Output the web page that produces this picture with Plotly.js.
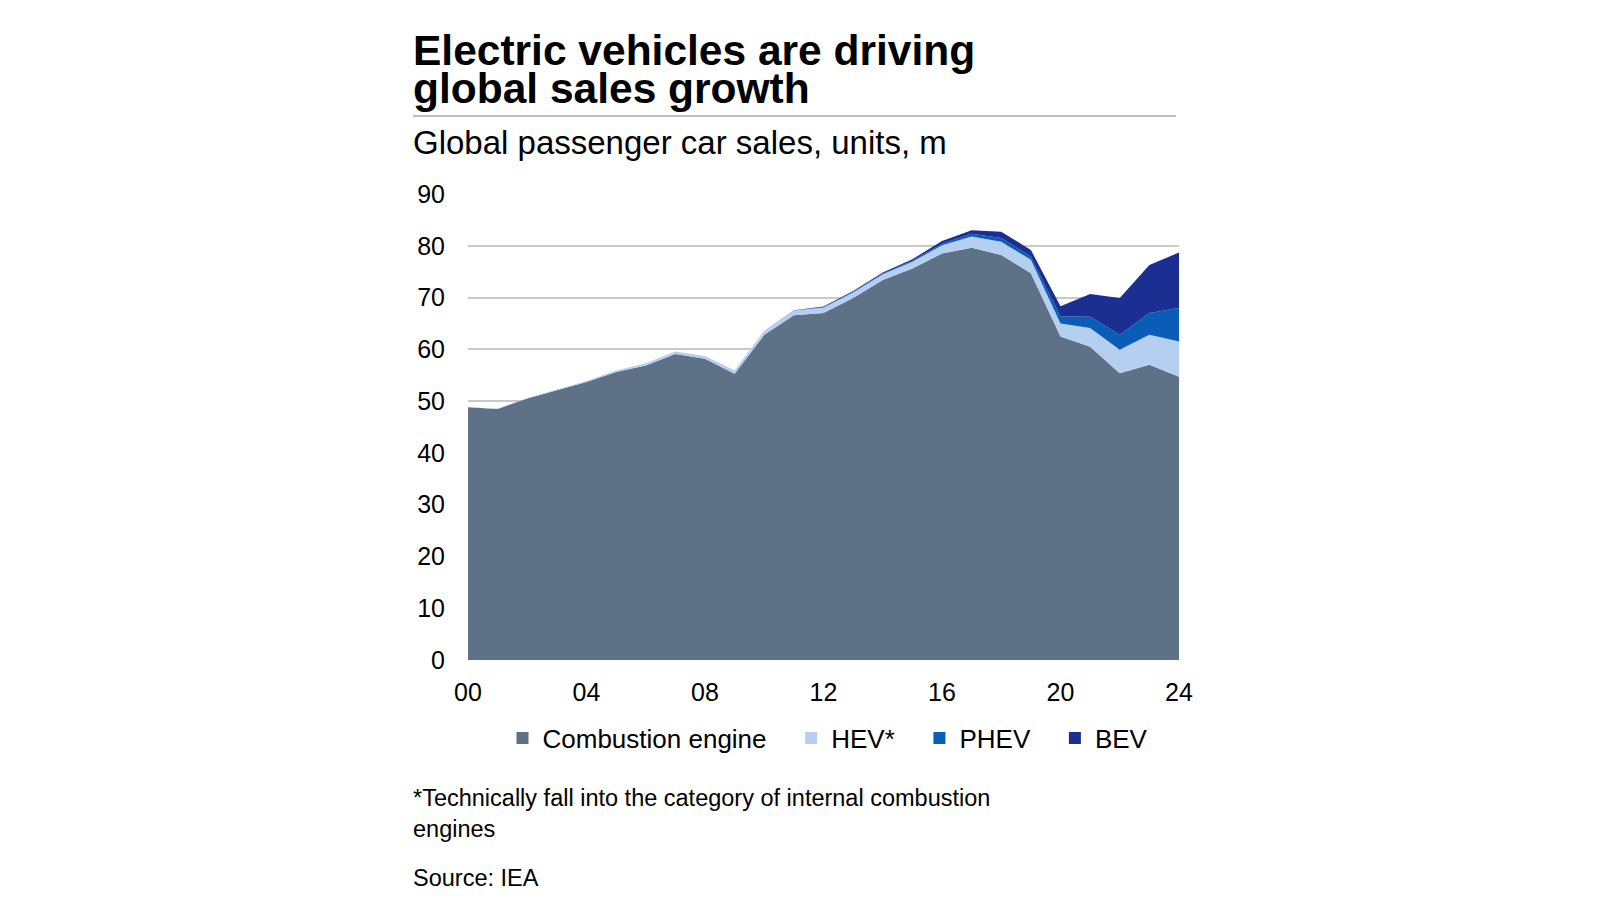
<!DOCTYPE html>
<html>
<head>
<meta charset="utf-8">
<script src="https://cdn.plot.ly/plotly-3.0.1.min.js"></script>
<style>
  html, body { margin: 0; padding: 0; background: #fff; }
  #chart { width: 1600px; height: 900px; }
</style>
</head>
<body>
<div id="chart"></div>
<script>
// global passenger car sales, millions of units
const years = [2000, 2001, 2002, 2003, 2004, 2005, 2006, 2007, 2008, 2009, 2010, 2011, 2012,
               2013, 2014, 2015, 2016, 2017, 2018, 2019, 2020, 2021, 2022, 2023, 2024]
const combustion = [48.8, 48.5, 50.5, 52.1, 53.7, 55.6, 56.9, 59.1, 58.2, 55.3, 62.8, 66.6, 67.0,
                    69.9, 73.4, 75.6, 78.5, 79.6, 78.2, 74.7, 62.5, 60.5, 55.4, 57.0, 54.7]
const hev = [0.0, 0.05, 0.1, 0.1, 0.2, 0.3, 0.4, 0.5, 0.5, 0.6, 0.8, 0.9, 1.1,
             1.1, 1.1, 1.3, 1.6, 2.2, 2.6, 2.6, 2.5, 3.6, 4.5, 5.8, 6.8]
const phev = [0, 0, 0, 0, 0, 0, 0, 0, 0, 0, 0, 0, 0.05,
              0.1, 0.15, 0.2, 0.3, 0.5, 0.7, 0.6, 1.4, 2.2, 2.9, 4.2, 6.5]
const bev = [0, 0, 0, 0, 0, 0, 0, 0, 0, 0, 0.01, 0.05, 0.1,
             0.15, 0.2, 0.3, 0.5, 0.7, 1.2, 1.3, 1.9, 4.4, 7.1, 9.3, 10.7]

const seriesNames = ['Combustion engine', 'HEV*', 'PHEV', 'BEV']
const seriesColors = ['#5d7187', '#b5cff0', '#0a5db6', '#1b2f93']
const tickYears = [2000, 2004, 2008, 2012, 2016, 2020, 2024]
const tickText = ['00', '04', '08', '12', '16', '20', '24']

const FONT = 'Liberation Sans, Arial, sans-serif'

// plot area in pixels, used to place the text around it
const L = 468, R = 1179, T = 194, B = 660
const px = x => (x - L) / (R - L)
const py = y => (B - y) / (B - T)

const values = [combustion, hev, phev, bev]
let traces = values.map((v, i) => ({
    x: years,
    y: v,
    name: seriesNames[i],
    type: 'scatter',
    mode: 'lines',
    stackgroup: 'one',
    line: {width: 0, color: seriesColors[i]},
    fillcolor: seriesColors[i],
    showlegend: false,
    hoverinfo: 'skip'
}))

// square legend swatches like the original, a bit more room between entries
const pad = '\u00a0\u00a0\u2009'
seriesNames.forEach((n, i) => {
    traces.push({
        x: [null], y: [null],
        name: i < seriesNames.length - 1 ? n + pad : n,
        type: 'scatter',
        mode: 'markers',
        marker: {symbol: 'square', size: 12, color: seriesColors[i]},
        showlegend: true
    })
})

function note(text, x, y, size, opts) {
    return Object.assign({
        text: text,
        xref: 'paper', yref: 'paper',
        x: px(x), y: py(y),
        xanchor: 'left', yanchor: 'middle',
        showarrow: false,
        align: 'left',
        font: {family: FONT, size: size, color: '#000'}
    }, opts || {})
}

const layout = {
    width: 1600,
    height: 900,
    margin: {l: L, r: 1600 - R, t: T, b: 900 - B, pad: 0},
    paper_bgcolor: '#fff',
    plot_bgcolor: '#fff',
    font: {family: FONT, size: 26, color: '#000'},
    showlegend: true,
    legend: {
        orientation: 'h',
        x: px(828), xanchor: 'center',
        y: py(738), yanchor: 'middle',
        font: {family: FONT, size: 26, color: '#000'},
        bgcolor: 'rgba(0,0,0,0)',
        traceorder: 'normal'
    },
    xaxis: {
        range: [2000, 2024],
        tickvals: tickYears,
        ticktext: tickText,
        showgrid: false,
        zeroline: false,
        showline: false,
        ticks: '',
        ticklabelstandoff: 15,
        tickfont: {family: FONT, size: 25, color: '#000'},
        fixedrange: true
    },
    yaxis: {
        range: [0, 90],
        dtick: 10,
        showgrid: true,
        gridcolor: '#c9c9c9',
        gridwidth: 2,
        zeroline: false,
        showline: false,
        ticks: '',
        ticklabelstandoff: 22,
        tickfont: {family: FONT, size: 25, color: '#000'},
        fixedrange: true
    },
    shapes: [{
        type: 'line', xref: 'paper', yref: 'paper',
        x0: px(413), x1: px(1176), y0: py(116), y1: py(116),
        line: {color: '#bdbdbd', width: 2}
    }],
    annotations: [
        note('<b>Electric vehicles are driving</b>', 411, 50, 42.5),
        note('<b>global sales growth</b>', 411, 88, 42.5),
        note('Global passenger car sales, units, m', 411, 142, 33),
        note('*Technically fall into the category of internal combustion<br>engines', 411, 813, 23.5),
        note('Source: IEA', 411, 878, 23.5)
    ]
}

Plotly.newPlot('chart', traces, layout, {displayModeBar: false, staticPlot: true})
</script>
</body>
</html>
